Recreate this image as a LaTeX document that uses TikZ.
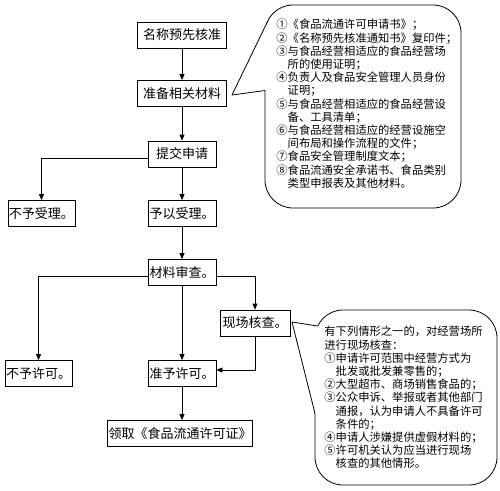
\documentclass[tikz,border=0pt]{standalone}
\usepackage{fontspec}
\newfontfamily\cjk{Noto Sans CJK SC}
\usetikzlibrary{arrows.meta}
\newcommand{\cind}{\hspace*{1em}}

\begin{document}
\begin{tikzpicture}[x=1pt, y=-1pt, line width=0.8pt,
  box/.style={draw, inner sep=0pt, minimum height=26pt, font=\cjk\fontsize{13}{15}\selectfont},
  flow/.style={-{Triangle[length=6pt,width=5pt]}},
  note/.style={anchor=north west, inner sep=0pt, align=left, font=\cjk\fontsize{11.3}{13.2}\selectfont}]
\useasboundingbox (0,0) rectangle (500,490);
\node[box, minimum width=89pt] (name) at (182,35) {名称预先核准};
\node[box, minimum width=89pt] (prep) at (182,93.5) {准备相关材料};
\node[box, minimum width=68pt] (submit) at (182,154) {提交申请};
\node[box, minimum width=67pt] (refuse) at (41.5,213.5) {不予受理。};
\node[box, minimum width=68pt] (accept) at (182,213.5) {予以受理。};
\node[box, minimum width=68pt] (review) at (182,272.5) {材料审查。};
\node[box, minimum width=70pt] (site) at (255,323) {现场核查。};
\node[box, minimum width=67pt] (deny) at (38.5,373.5) {不予许可。};
\node[box, minimum width=68pt] (grant) at (182,373.5) {准予许可。};
\node[box, minimum width=145pt] (licence) at (180,433.5) {领取《食品流通许可证》};
\draw[flow] (name) -- (prep);
\draw[flow] (prep) -- (submit);
\draw[flow] ([yshift=-4pt]submit.west) -| (refuse.north);
\draw[flow] (submit) -- (accept);
\draw[flow] (accept) -- (review);
\draw[flow] ([yshift=-4pt]review.west) -| (deny.north);
\draw[flow] ([yshift=-4pt]review.east) -| (site.north);
\draw[flow] (review) -- (grant);
\draw[flow] (site.south) |- ([yshift=3.5pt]grant.east);
\draw[flow] (grant) -- (grant.south |- licence.north);
\coordinate (tipA) at (232,95);
\coordinate (tipB) at (292,322);
\draw[rounded corners=28pt] (265,5) rectangle (461,208);
\fill[white] (tipA) -- (267.3,22) -- (272,30) -- (272,88) -- (265,90.5) -- cycle;
\draw[line join=round] (267.3,22) -- (tipA) -- (265,90.5);
\draw[rounded corners=28pt] (315,310) rectangle (497,485);
\fill[white] (tipB) -- (317.7,326) -- (322,335) -- (322,410) -- (315,413.5) -- cycle;
\draw[line join=round] (317.7,326) -- (tipB) -- (315,413.5);
\node[note] (listA) at (276,19) {①《食品流通许可申请书》；\\
②《名称预先核准通知书》复印件；\\
③与食品经营相适应的食品经营场\\
\cind 所的使用证明；\\
④负责人及食品安全管理人员身份\\
\cind 证明；\\
⑤与食品经营相适应的食品经营设\\
\cind 备、工具清单；\\
⑥与食品经营相适应的经营设施空\\
\cind 间布局和操作流程的文件；\\
⑦食品安全管理制度文本；\\
⑧食品流通安全承诺书、食品类别\\
\cind 类型申报表及其他材料。};
\node[note] (listB) at (324,326) {有下列情形之一的，对经营场所\\
进行现场核查：\\
①申请许可范围中经营方式为\\
\cind 批发或批发兼零售的；\\
②大型超市、商场销售食品的；\\
③公众申诉、举报或者其他部门\\
\cind 通报，认为申请人不具备许可\\
\cind 条件的；\\
④申请人涉嫌提供虚假材料的；\\
⑤许可机关认为应当进行现场\\
\cind 核查的其他情形。};
\end{tikzpicture}
\end{document}
